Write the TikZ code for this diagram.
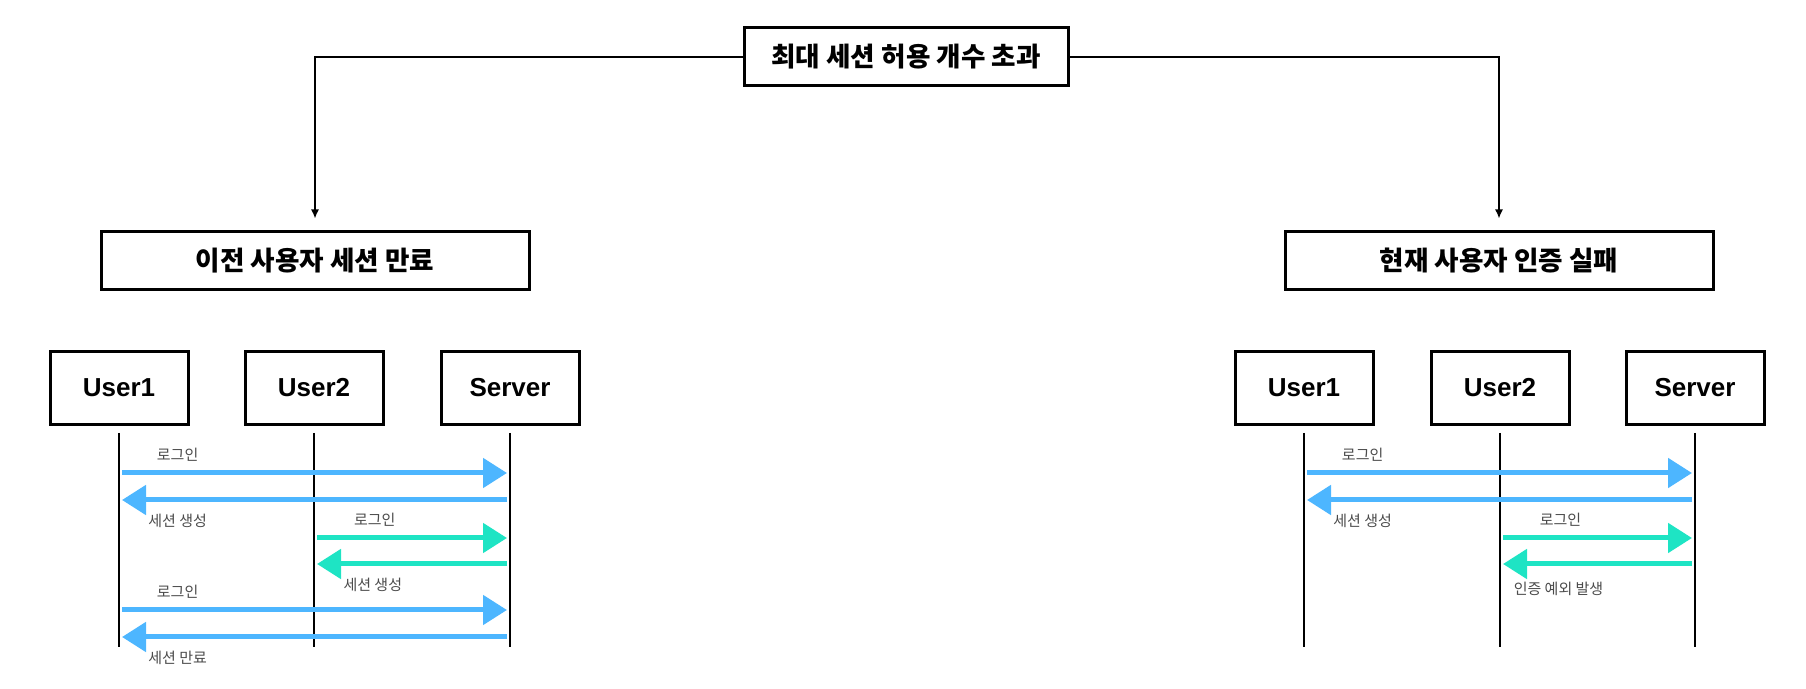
\documentclass[tikz,border=0pt]{standalone}
\usepackage{fontspec}
\setmainfont{Noto Sans CJK KR}
\newfontfamily\actorfont{Liberation Sans}
\usetikzlibrary{arrows.meta}

\definecolor{msgblue}{RGB}{77,182,255}
\definecolor{msgteal}{RGB}{30,228,196}
\definecolor{msggray}{RGB}{75,75,75}

\begin{document}
\begin{tikzpicture}[x=0.5pt, y=-0.5pt,
	sketchbox/.style={draw, line width=1.5pt, fill=white, inner sep=0pt},
	casebox/.style={sketchbox, minimum height=29pt, font=\fontsize{13.3pt}{15pt}\selectfont\bfseries},
	actor/.style={sketchbox, minimum width=69pt, minimum height=36.5pt, font=\actorfont\fontsize{13pt}{15pt}\selectfont\bfseries},
	lifeline/.style={line width=1pt, shorten <=3.5pt},
	branch/.style={line width=0.75pt, -{Latex[length=4.5pt,width=4pt]}, shorten >=6pt},
	msg/.style={line width=2.5pt, -{Triangle[length=12pt,width=14.5pt]}, shorten <=1.5pt, shorten >=1.5pt},
	msglabel/.style={font=\fontsize{7.5pt}{9pt}\selectfont, text=msggray, inner sep=1pt}]
	\useasboundingbox (0,0) rectangle (1806,689);

	% cases
	\node[casebox, minimum width=162pt] (limit) at (906,57) {최대 세션 허용 개수 초과};
	\node[casebox, minimum width=214pt] (expire) at (315,261) {이전 사용자 세션 만료};
	\node[casebox, minimum width=214pt] (reject) at (1499,261) {현재 사용자 인증 실패};
	\draw[branch] (limit.west) -| (expire.north);
	\draw[branch] (limit.east) -| (reject.north);

	% actors
	\node[actor] (A1) at (119,388) {User1};
	\node[actor] (A2) at (314,388) {User2};
	\node[actor] (AS) at (510,388) {Server};
	\node[actor] (B1) at (1304,388) {User1};
	\node[actor] (B2) at (1500,388) {User2};
	\node[actor] (BS) at (1695,388) {Server};
	\coordinate (lifeend) at (0,647);
	\foreach \n in {A1,A2,AS,B1,B2,BS}
		\draw[lifeline] (\n.south) -- (\n |- lifeend);

	% message rows
	\coordinate (r1) at (0,473);
	\coordinate (r2) at (0,500);
	\coordinate (r3) at (0,538);
	\coordinate (r4) at (0,564);
	\coordinate (r5) at (0,610);
	\coordinate (r6) at (0,637);

	% previous user expires
	\draw[msg, msgblue] (A1 |- r1) -- node[msglabel, pos=0.15, above=3.5pt] {로그인} (AS |- r1);
	\draw[msg, msgblue] (AS |- r2) -- node[msglabel, pos=0.85, below=5pt] {세션 생성} (A1 |- r2);
	\draw[msg, msgteal] (A2 |- r3) -- node[msglabel, pos=0.31, above=3.5pt] {로그인} (AS |- r3);
	\draw[msg, msgteal] (AS |- r4) -- node[msglabel, pos=0.70, below=5pt] {세션 생성} (A2 |- r4);
	\draw[msg, msgblue] (A1 |- r5) -- node[msglabel, pos=0.15, above=3.5pt] {로그인} (AS |- r5);
	\draw[msg, msgblue] (AS |- r6) -- node[msglabel, pos=0.85, below=5pt] {세션 만료} (A1 |- r6);

	% current user fails
	\draw[msg, msgblue] (B1 |- r1) -- node[msglabel, pos=0.15, above=3.5pt] {로그인} (BS |- r1);
	\draw[msg, msgblue] (BS |- r2) -- node[msglabel, pos=0.85, below=5pt] {세션 생성} (B1 |- r2);
	\draw[msg, msgteal] (B2 |- r3) -- node[msglabel, pos=0.31, above=3.5pt] {로그인} (BS |- r3);
	\draw[msg, msgteal] (BS |- r4) -- node[msglabel, pos=0.70, below=7pt] {인증 예외 발생} (B2 |- r4);
\end{tikzpicture}
\end{document}
